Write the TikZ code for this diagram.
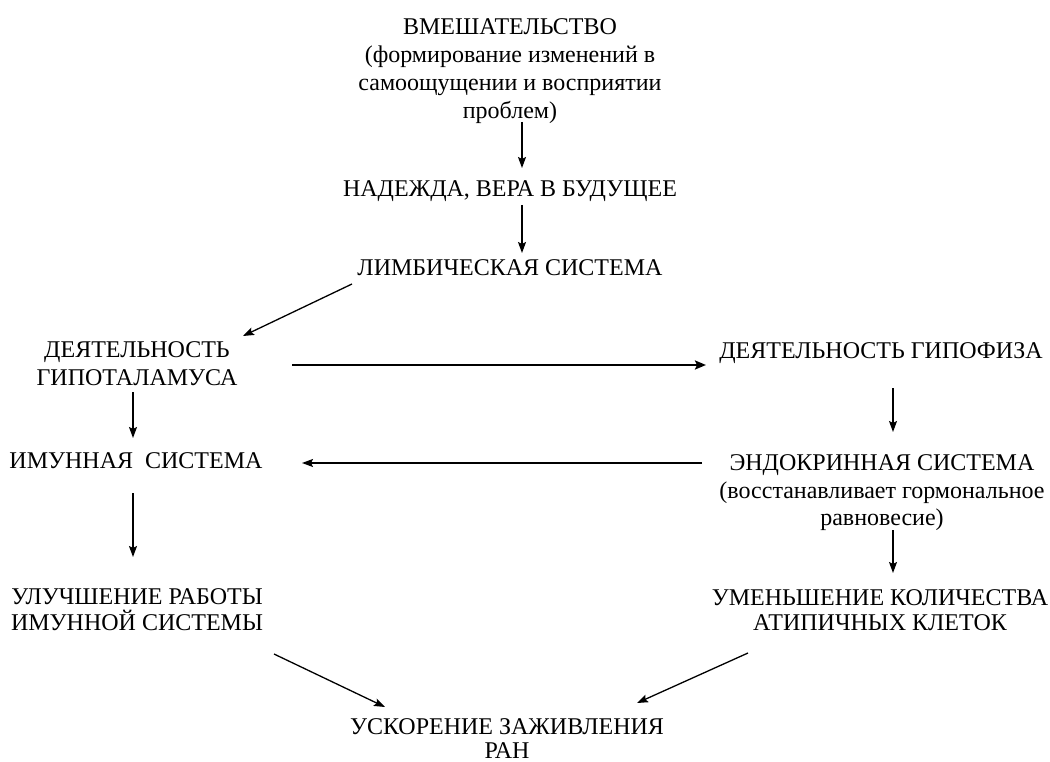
\documentclass[tikz,border=0pt]{standalone}
\usepackage{fontspec}
\setmainfont{Liberation Serif}
\usetikzlibrary{arrows.meta}
\begin{document}
\begin{tikzpicture}[x=1pt,y=-1pt,
  lbl/.style={inner sep=0pt,align=center,font=\fontsize{24}{27.5}\selectfont},
  tight/.style={font=\fontsize{24}{25}\selectfont},
  arr/.style={line width=1.3pt,-{Stealth[length=11pt,width=8pt,inset=2pt]}},
  thickarr/.style={line width=2.8pt,-{Stealth[length=11pt,width=9pt,inset=2pt]}}]
\useasboundingbox[fill=white] (0,0) rectangle (1050,762);
\node[lbl,font=\fontsize{24}{28}\selectfont] (vm) at (510,71) {ВМЕШАТЕЛЬСТВО\\(формирование изменений в\\самоощущении и восприятии\\проблем)};
\node[lbl] (nad) at (510,191) {НАДЕЖДА, ВЕРА В БУДУЩЕЕ};
\node[lbl] (limb) at (510,268) {ЛИМБИЧЕСКАЯ СИСТЕМА};
\node[lbl] (hyp) at (137,363.5) {ДЕЯТЕЛЬНОСТЬ\\ГИПОТАЛАМУСА};
\node[lbl] (hypo) at (881,353) {ДЕЯТЕЛЬНОСТЬ ГИПОФИЗА};
\node[lbl] (imm) at (136,461) {ИМУННАЯ\ \ СИСТЕМА};
\node[lbl] (endo) at (882,493) {ЭНДОКРИННАЯ СИСТЕМА\\(восстанавливает гормональное\\равновесие)};
\node[lbl,font=\fontsize{24}{26}\selectfont] (ul) at (137,610) {УЛУЧШЕНИЕ РАБОТЫ\\ИМУННОЙ СИСТЕМЫ};
\node[lbl,tight] (um) at (880,610) {УМЕНЬШЕНИЕ КОЛИЧЕСТВА\\АТИПИЧНЫХ КЛЕТОК};
\node[lbl,font=\fontsize{24}{24}\selectfont] (usk) at (507,739) {УСКОРЕНИЕ ЗАЖИВЛЕНИЯ\\РАН};
\draw[arr] ([shift={(12,51)}]vm.center) -- ([shift={(12,-23)}]nad.center);
\draw[arr] ([shift={(12,14)}]nad.center) -- ([shift={(12,-15)}]limb.center);
\draw[arr] ([shift={(-158,16)}]limb.center) -- ([shift={(106,-27.5)}]hyp.center);
\draw[thickarr] ([shift={(155,1.5)}]hyp.center) -- ([shift={(-175,12)}]hypo.center);
\draw[arr] ([shift={(12,35)}]hypo.center) -- ([shift={(11,-61)}]endo.center);
\draw[arr] ([shift={(-4,28.5)}]hyp.center) -- ([shift={(-3,-23)}]imm.center);
\draw[arr] ([shift={(-180,-30)}]endo.center) -- ([shift={(166,2)}]imm.center);
\draw[arr] ([shift={(-3,32)}]imm.center) -- ([shift={(-4,-53)}]ul.center);
\draw[arr] ([shift={(11,37)}]endo.center) -- ([shift={(13,-37)}]um.center);
\draw[arr] ([shift={(137,44)}]ul.center) -- ([shift={(-122,-32)}]usk.center);
\draw[arr] ([shift={(-132,43)}]um.center) -- ([shift={(130,-36)}]usk.center);
\end{tikzpicture}
\end{document}
